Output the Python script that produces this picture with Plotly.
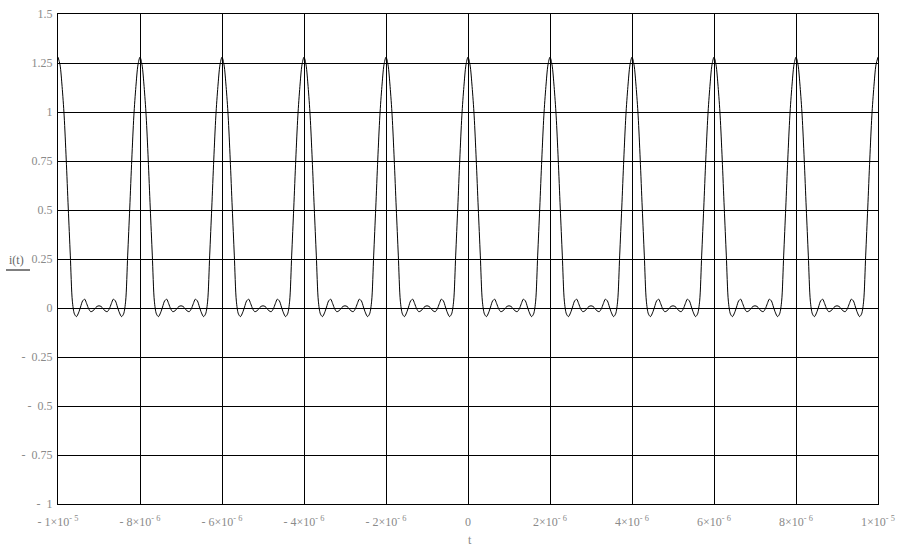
import numpy as np
import plotly.graph_objects as go

period_offsets_us = [0.00, 0.05, 0.10, 0.15, 0.20, 0.25, 0.30, 0.35, 0.40, 0.45,
                     0.50, 0.55, 0.60, 0.65, 0.70, 0.75, 0.80, 0.85, 0.90, 0.95,
                     1.00, 1.05, 1.10, 1.15, 1.20, 1.25, 1.30, 1.35, 1.40, 1.45,
                     1.50, 1.55, 1.60, 1.65, 1.70, 1.75, 1.80, 1.85, 1.90, 1.95]
period_values = [1.28, 1.24, 1.13, 0.98, 0.76, 0.51, 0.27, 0.035, -0.03, -0.044,
                 -0.025, 0.005, 0.036, 0.045, 0.022, -0.005, -0.019, -0.015, -0.003, 0.008,
                 0.011, 0.008, -0.003, -0.015, -0.019, -0.005, 0.022, 0.045, 0.036, 0.005,
                 -0.025, -0.044, -0.03, 0.035, 0.27, 0.51, 0.76, 0.98, 1.13, 1.24]
n_periods = 10
t_start = -1e-5
period_s = 2e-6

y_tickvals = [1.5, 1.25, 1, 0.75, 0.5, 0.25, 0, -0.25, -0.5, -0.75, -1]
y_ticktext = ["1.5", "1.25", "1", "0.75", "0.5", "0.25", "0", "-  0.25", "-  0.5", "-  0.75", "-  1"]
x_tickvals = [-1e-5, -8e-6, -6e-6, -4e-6, -2e-6, 0, 2e-6, 4e-6, 6e-6, 8e-6, 1e-5]
x_ticktext = ["- 1×10<sup>- 5</sup>", "- 8×10<sup>- 6</sup>", "- 6×10<sup>- 6</sup>",
              "- 4×10<sup>- 6</sup>", "- 2×10<sup>- 6</sup>", "0",
              "2×10<sup>- 6</sup>", "4×10<sup>- 6</sup>", "6×10<sup>- 6</sup>",
              "8×10<sup>- 6</sup>", "1×10<sup>- 5</sup>"]

# assemble the series from the read period
t = []
v = []
for k in range(n_periods):
    for off, val in zip(period_offsets_us, period_values):
        t.append(t_start + k * period_s + off * 1e-6)
        v.append(val)
t.append(t_start + n_periods * period_s)
v.append(period_values[0])

L, R, T, B = 58, 35, 14, 44
W, H = 913, 548
PW, PH = W - L - R, H - T - B


def px(x):
    return (x - L) / PW


def py(y):
    return (H - B - y) / PH


fig = go.Figure()
fig.add_trace(go.Scatter(x=t, y=v, mode="lines",
                         line=dict(color="black", width=1, shape="spline", smoothing=0.8),
                         hoverinfo="skip", showlegend=False))

tickfont = dict(family="Liberation Serif", size=12, color="#8a8a8a")
fig.update_layout(
    width=W, height=H,
    margin=dict(l=L, r=R, t=T, b=B, autoexpand=False),
    paper_bgcolor="white", plot_bgcolor="white",
    showlegend=False,
    xaxis=dict(range=[-1e-5, 1e-5], tickvals=x_tickvals, ticktext=x_ticktext,
               showgrid=True, gridcolor="black", gridwidth=1, zeroline=False,
               showline=True, linecolor="black", linewidth=1, mirror=True,
               ticks="", tickfont=tickfont, automargin=False, ticklabelstandoff=7),
    yaxis=dict(range=[-1, 1.5], tickvals=y_tickvals, ticktext=y_ticktext,
               showgrid=True, gridcolor="black", gridwidth=1, zeroline=False,
               showline=True, linecolor="black", linewidth=1, mirror=True,
               ticks="", tickfont=tickfont, ticklabelstandoff=2, automargin=False),
)

fig.add_annotation(x=px(16), y=py(260), xref="paper", yref="paper", text="i(t)",
                   xanchor="center", yanchor="middle",
                   showarrow=False, font=dict(family="Liberation Serif", size=12, color="#666"))
fig.add_annotation(x=px(470), y=py(540), xref="paper", yref="paper", text="t",
                   xanchor="center", yanchor="middle",
                   showarrow=False, font=dict(family="Liberation Serif", size=12, color="#888"))
fig.add_shape(type="line", xref="paper", yref="paper",
              x0=px(6), x1=px(30), y0=py(270), y1=py(270),
              line=dict(color="black", width=1))

fig.write_html("out.html", config={"displayModeBar": False, "staticPlot": True},
               post_script="document.body.style.margin='0';document.body.style.overflow='hidden';")
